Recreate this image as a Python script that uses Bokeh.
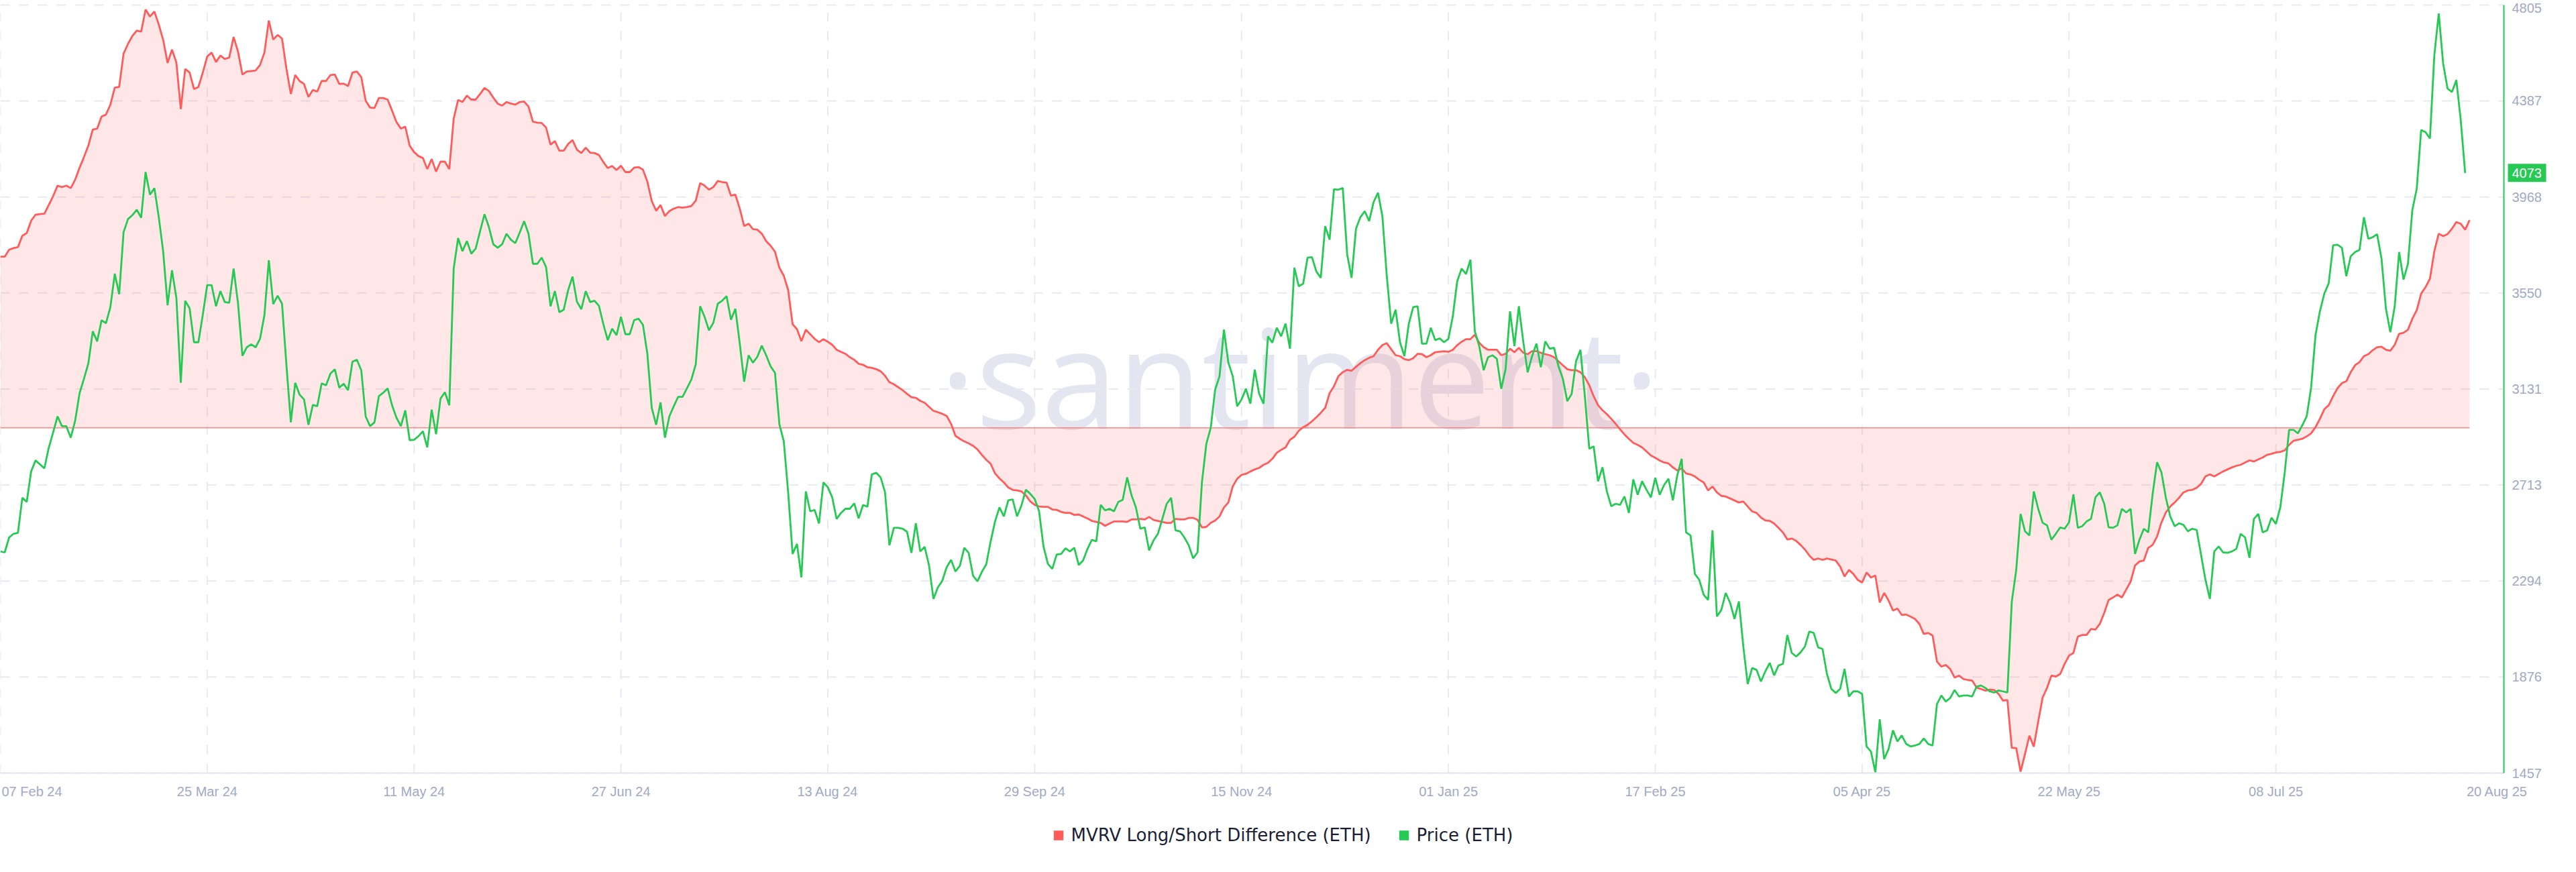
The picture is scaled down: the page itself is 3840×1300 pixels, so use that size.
import pandas as pd
from bokeh.plotting import figure
from bokeh.models import Range1d, Legend, LegendItem, Label, ColumnDataSource
from bokeh.core.properties import value
from bokeh.embed import file_html
from bokeh.resources import INLINE

# ---------------- data (daily, starting 07 Feb 2024) ----------------
START = "2024-02-07"

price_eth = [
    2423, 2419, 2484, 2500, 2504, 2657, 2639, 2772, 2820, 2803,
    2785, 2875, 2942, 3012, 2969, 2969, 2919, 2993, 3113, 3176,
    3243, 3383, 3339, 3431, 3418, 3488, 3634, 3544, 3815, 3872,
    3889, 3913, 3878, 4077, 3978, 4007, 3880, 3730, 3496, 3649,
    3527, 3158, 3516, 3483, 3335, 3335, 3455, 3584, 3584, 3492,
    3558, 3510, 3507, 3656, 3505, 3276, 3313, 3326, 3313, 3350,
    3453, 3693, 3501, 3538, 3503, 3235, 2986, 3158, 3106, 3086,
    2975, 3062, 3056, 3156, 3147, 3198, 3217, 3137, 3154, 3126,
    3250, 3259, 3213, 3012, 2969, 2986, 3100, 3115, 3134, 3060,
    3006, 2969, 3038, 2908, 2910, 2925, 2947, 2877, 3041, 2934,
    3089, 3117, 3060, 3656, 3789, 3732, 3776, 3721, 3743, 3819,
    3893, 3837, 3762, 3747, 3762, 3808, 3782, 3767, 3813, 3863,
    3808, 3677, 3677, 3704, 3662, 3492, 3558, 3466, 3477, 3562,
    3621, 3512, 3479, 3558, 3510, 3516, 3494, 3414, 3344, 3394,
    3366, 3446, 3370, 3370, 3431, 3438, 3411, 3285, 3049, 2975,
    3073, 2919, 3012, 3056, 3097, 3097, 3134, 3172, 3239, 3492,
    3446, 3387, 3420, 3503, 3516, 3536, 3433, 3481, 3329, 3163,
    3278, 3246, 3272, 3320, 3278, 3230, 3202, 2977, 2903, 2679,
    2412, 2456, 2310, 2685, 2598, 2604, 2545, 2724, 2703, 2659,
    2565, 2591, 2609, 2609, 2633, 2567, 2626, 2618, 2759, 2766,
    2746, 2681, 2450, 2526, 2526, 2522, 2509, 2417, 2546, 2423,
    2443, 2362, 2216, 2266, 2295, 2354, 2386, 2336, 2360, 2439,
    2417, 2317, 2293, 2334, 2367, 2467, 2554, 2615, 2576, 2646,
    2650, 2576, 2624, 2692, 2674, 2652, 2598, 2445, 2369, 2347,
    2410, 2412, 2437, 2423, 2439, 2364, 2384, 2434, 2474, 2467,
    2626, 2602, 2609, 2598, 2639, 2648, 2746, 2668, 2615, 2522,
    2528, 2428, 2471, 2500, 2565, 2631, 2657, 2515, 2511, 2484,
    2450, 2393, 2419, 2724, 2892, 2962, 3128, 3187, 3390, 3246,
    3187, 3056, 3086, 3132, 3067, 3215, 3110, 3067, 3361, 3333,
    3398, 3361, 3416, 3307, 3660, 3579, 3590, 3704, 3706, 3643,
    3616, 3841, 3782, 4002, 4000, 4007, 3717, 3616, 3830, 3880,
    3906, 3863, 3946, 3987, 3885, 3623, 3416, 3477, 3335, 3274,
    3416, 3488, 3492, 3329, 3329, 3398, 3344, 3352, 3335, 3350,
    3448, 3601, 3656, 3632, 3695, 3383, 3318, 3213, 3270, 3278,
    3263, 3132, 3219, 3470, 3318, 3492, 3339, 3204, 3274, 3329,
    3226, 3339, 3307, 3311, 3230, 3176, 3078, 3110, 3252, 3302,
    3099, 2871, 2881, 2729, 2790, 2685, 2620, 2631, 2626, 2663,
    2591, 2737, 2670, 2729, 2692, 2659, 2744, 2670, 2713, 2740,
    2646, 2755, 2827, 2506, 2493, 2325, 2299, 2234, 2212, 2515,
    2140, 2168, 2242, 2199, 2129, 2205, 2009, 1845, 1915, 1907,
    1856, 1900, 1937, 1883, 1926, 1933, 2059, 1981, 1965, 1983,
    2009, 2074, 2068, 2005, 1998, 1889, 1824, 1806, 1824, 1911,
    1791, 1813, 1813, 1802, 1573, 1551, 1460, 1691, 1518, 1562,
    1643, 1595, 1621, 1584, 1573, 1577, 1584, 1608, 1584, 1577,
    1758, 1795, 1769, 1784, 1819, 1791, 1795, 1795, 1791, 1834,
    1839, 1828, 1813, 1808, 1817, 1813, 1808, 2205, 2341, 2587,
    2511, 2493, 2685, 2609, 2548, 2537, 2474, 2500, 2528, 2522,
    2550, 2672, 2526, 2533, 2554, 2565, 2659, 2681, 2631, 2528,
    2526, 2537, 2609, 2593, 2609, 2412, 2474, 2522, 2506, 2674,
    2812, 2768, 2657, 2576, 2533, 2546, 2539, 2511, 2522, 2517,
    2408, 2299, 2216, 2423, 2445, 2419, 2417, 2423, 2434, 2500,
    2484, 2395, 2565, 2587, 2506, 2515, 2570, 2543, 2615, 2766,
    2953, 2953, 2938, 2973, 3012, 3137, 3366, 3470, 3547, 3592,
    3758, 3760, 3747, 3623, 3710, 3728, 3738, 3880, 3786, 3793,
    3806, 3699, 3481, 3379, 3492, 3728, 3608, 3677, 3911, 4004,
    4260, 4251, 4223, 4587, 4768, 4550, 4441, 4426, 4478, 4303,
    4073,
]

# MVRV Long/Short Difference (ETH), in percent
mvrv_long_short = [
    8.55, 8.55, 8.9, 8.98, 9.03, 9.6, 9.73, 10.35, 10.65, 10.68,
    10.7, 11.13, 11.58, 12.1, 12.03, 12.1, 11.98, 12.4, 13.0, 13.53,
    14.1, 14.9, 14.95, 15.55, 15.65, 16.15, 17.0, 17.03, 18.7, 19.18,
    19.58, 19.85, 19.8, 20.9, 20.55, 20.8, 20.15, 19.38, 18.23, 18.9,
    18.25, 15.93, 17.93, 17.75, 16.93, 17.03, 17.75, 18.55, 18.75, 18.28,
    18.6, 18.43, 18.5, 19.53, 18.8, 17.65, 17.8, 17.83, 17.85, 18.13,
    18.75, 20.35, 19.4, 19.63, 19.45, 17.95, 16.68, 17.63, 17.33, 17.18,
    16.53, 16.88, 16.8, 17.33, 17.33, 17.63, 17.65, 17.18, 17.2, 17.08,
    17.75, 17.8, 17.53, 16.35, 16.0, 15.98, 16.48, 16.48, 16.4, 15.85,
    15.28, 14.95, 15.05, 14.1, 13.78, 13.58, 13.48, 12.93, 13.43, 12.8,
    13.3, 13.3, 12.93, 15.45, 16.38, 16.28, 16.6, 16.4, 16.4, 16.68,
    16.98, 16.83, 16.5, 16.2, 16.1, 16.28, 16.2, 16.15, 16.28, 16.3,
    16.05, 15.3, 15.25, 15.23, 15.0, 14.15, 14.33, 13.85, 13.85, 14.18,
    14.38, 13.9, 13.73, 14.0, 13.75, 13.73, 13.63, 13.28, 12.98, 13.08,
    12.88, 13.1, 12.78, 12.78, 13.0, 13.03, 12.9, 12.3, 11.33, 10.85,
    11.13, 10.58, 10.83, 10.95, 11.03, 11.0, 11.03, 11.08, 11.35, 12.23,
    12.1, 11.9, 12.03, 12.33, 12.28, 12.25, 11.6, 11.65, 10.95, 10.08,
    10.2, 9.93, 9.9, 9.7, 9.33, 9.1, 8.8, 8.0, 7.6, 6.88,
    5.18, 4.93, 4.33, 4.9, 4.68, 4.45, 4.28, 4.43, 4.3, 4.15,
    3.9, 3.8, 3.7, 3.53, 3.4, 3.2, 3.15, 3.03, 3.0, 2.93,
    2.83, 2.6, 2.28, 2.18, 2.03, 1.88, 1.7, 1.53, 1.5, 1.35,
    1.25, 1.05, 0.85, 0.78, 0.7, 0.6, 0.2, -0.4, -0.55, -0.68,
    -0.78, -0.9, -1.08, -1.35, -1.6, -1.8, -2.28, -2.53, -2.73, -2.98,
    -3.1, -3.13, -3.18, -3.38, -3.68, -3.85, -3.93, -3.95, -3.95, -4.08,
    -4.1, -4.2, -4.25, -4.25, -4.35, -4.33, -4.43, -4.53, -4.65, -4.7,
    -4.75, -4.9, -4.78, -4.68, -4.68, -4.68, -4.7, -4.58, -4.58, -4.55,
    -4.58, -4.45, -4.6, -4.65, -4.7, -4.75, -4.75, -4.55, -4.58, -4.58,
    -4.5, -4.5, -4.6, -4.98, -4.95, -4.75, -4.63, -4.43, -3.98, -3.73,
    -2.93, -2.55, -2.35, -2.3, -2.18, -2.08, -2.0, -1.85, -1.75, -1.55,
    -1.25, -1.1, -0.98, -0.6, -0.45, -0.15, 0.03, 0.15, 0.33, 0.53,
    0.75, 1.0, 1.73, 2.08, 2.58, 2.78, 2.9, 2.85, 3.05, 3.23,
    3.38, 3.5, 3.58, 3.9, 4.13, 4.23, 3.93, 3.63, 3.58, 3.43,
    3.38, 3.48, 3.7, 3.68, 3.53, 3.63, 3.78, 3.8, 3.83, 3.8,
    3.9, 4.13, 4.3, 4.43, 4.43, 4.65, 4.25, 4.03, 3.9, 3.9,
    3.9, 3.63, 3.7, 3.95, 3.78, 4.0, 3.75, 3.68, 3.83, 3.83,
    3.75, 3.68, 3.63, 3.53, 3.33, 3.13, 2.93, 2.88, 2.88, 2.78,
    2.53, 2.13, 1.58, 1.13, 0.88, 0.68, 0.45, 0.2, -0.08, -0.33,
    -0.55, -0.75, -0.85, -0.98, -1.18, -1.38, -1.5, -1.63, -1.73, -1.78,
    -1.98, -2.13, -2.03, -2.28, -2.33, -2.43, -2.6, -2.73, -3.13, -2.93,
    -3.23, -3.4, -3.43, -3.53, -3.63, -3.73, -3.68, -3.93, -4.18, -4.25,
    -4.48, -4.63, -4.65, -4.78, -5.0, -5.23, -5.58, -5.53, -5.65, -5.85,
    -6.08, -6.38, -6.6, -6.53, -6.6, -6.53, -6.58, -6.63, -6.93, -7.43,
    -7.1, -7.3, -7.6, -7.73, -7.23, -7.48, -7.38, -8.73, -8.25, -8.63,
    -9.13, -9.03, -9.35, -9.33, -9.43, -9.55, -9.8, -10.3, -10.25, -10.38,
    -11.68, -11.93, -11.85, -12.05, -12.48, -12.38, -12.55, -12.6, -12.63, -12.98,
    -13.05, -13.13, -13.08, -13.1, -13.3, -13.63, -13.6, -16.0, -16.0, -17.18,
    -16.3, -15.38, -15.93, -14.68, -13.48, -13.0, -12.38, -12.43, -12.3, -11.8,
    -11.38, -11.25, -10.43, -10.35, -10.35, -10.05, -10.08, -9.8, -9.25, -8.6,
    -8.48, -8.33, -8.48, -8.08, -7.68, -6.88, -6.68, -6.63, -6.0, -5.85,
    -5.43, -4.73, -4.23, -3.93, -3.73, -3.5, -3.23, -3.13, -3.1, -3.0,
    -2.8, -2.43, -2.33, -2.43, -2.3, -2.18, -2.08, -1.98, -1.9, -1.85,
    -1.73, -1.63, -1.68, -1.58, -1.48, -1.35, -1.3, -1.23, -1.2, -1.13,
    -0.85, -0.65, -0.6, -0.55, -0.43, -0.28, 0.03, 0.45, 0.93, 1.13,
    1.58, 1.98, 2.23, 2.33, 2.78, 3.13, 3.28, 3.58, 3.68, 3.88,
    4.03, 4.05, 3.9, 3.85, 4.15, 4.7, 4.75, 4.9, 5.45, 5.88,
    6.7, 7.03, 7.45, 8.83, 9.7, 9.58, 9.68, 9.95, 10.28, 10.2,
    9.9, 10.38,
]

x_tick_dates = ["2024-02-07", "2024-03-25", "2024-05-11", "2024-06-27", "2024-08-13",
                "2024-09-29", "2024-11-15", "2025-01-01", "2025-02-17", "2025-04-05",
                "2025-05-22", "2025-07-08"]
price_ticks = [1457, 1876, 2294, 2713, 3131, 3550, 3968, 4387, 4805]
MVRV_MIN, MVRV_MAX = -17.25, 21.125
X_PLOT_DAYS = 568.8

# ---------------- layout constants (pixels) ----------------
CANVAS_W, CANVAS_H = 3824, 1284
PLOT_RIGHT = 3732            # canvas x of the price axis line
PLOT_TOP, PLOT_BOTTOM = 7, 1152

RED = "#ff5b5b"
GREEN = "#26c953"
LABEL_C = "#9faac4"
GRID_C = "#e8eaf2"
AXIS_FONT = "Liberation Sans"
DAY_MS = 86400000.0
LINE_W = 2.8

price_dates = pd.date_range(START, periods=len(price_eth), freq="D")
mvrv_dates = pd.date_range(START, periods=len(mvrv_long_short), freq="D")


def ms(t):
    return pd.Timestamp(t).value / 1e6


x_start = ms(START)
x_axis_end = x_start + X_PLOT_DAYS * DAY_MS          # where the price axis sits
ms_per_px = (x_axis_end - x_start) / PLOT_RIGHT
x_canvas_end = x_start + CANVAS_W * ms_per_px

p_lo, p_hi = price_ticks[0], price_ticks[-1]
pp = (p_hi - p_lo) / (PLOT_BOTTOM - PLOT_TOP)
mp = (MVRV_MAX - MVRV_MIN) / (PLOT_BOTTOM - PLOT_TOP)

p = figure(width=CANVAS_W, height=CANVAS_H,
           x_range=Range1d(x_start, x_canvas_end),
           y_range=Range1d(p_lo - (CANVAS_H - PLOT_BOTTOM) * pp, p_hi + PLOT_TOP * pp),
           x_axis_location=None, y_axis_location=None,
           output_backend="svg", toolbar_location=None, min_border=0)
p.extra_y_ranges = {"mvrv": Range1d(MVRV_MIN - (CANVAS_H - PLOT_BOTTOM) * mp,
                                    MVRV_MAX + PLOT_TOP * mp)}
p.outline_line_color = None
p.grid.visible = False
p.background_fill_color = "white"
p.border_fill_color = "white"

# watermark (under everything)
p.add_layout(Label(x=x_start + (x_axis_end - x_start) * 0.519,
                   y=p_lo + (p_hi - p_lo) * 0.518,
                   text="\u00b7santiment\u00b7", text_font="Open Sans", text_font_size="205px",
                   text_color="#e3e6f0", text_align="center", text_baseline="alphabetic",
                   level="underlay"))

# dashed grid
tick_ms = [ms(d) for d in x_tick_dates]
p.segment(x0=tick_ms, y0=[p_lo] * len(tick_ms), x1=tick_ms, y1=[p_hi] * len(tick_ms),
          line_color=GRID_C, line_width=2, line_dash="14 14")
p.segment(x0=[x_start] * len(price_ticks), y0=price_ticks,
          x1=[x_axis_end] * len(price_ticks), y1=price_ticks,
          line_color=GRID_C, line_width=2, line_dash="14 14")

# series
msrc = ColumnDataSource(dict(date=mvrv_dates, mvrv=mvrv_long_short))
psrc = ColumnDataSource(dict(date=price_dates, price=price_eth))
p.varea(x="date", y1=0, y2="mvrv", source=msrc, y_range_name="mvrv",
        fill_color=RED, fill_alpha=0.15)
p.line(x=[mvrv_dates[0], mvrv_dates[-1]], y=[0, 0], y_range_name="mvrv",
       line_color=RED, line_width=1.2, line_alpha=0.85)
p.line("date", "mvrv", source=msrc, y_range_name="mvrv", line_color=RED, line_width=LINE_W)
p.line("date", "price", source=psrc, line_color=GREEN, line_width=LINE_W)

# axis lines
p.segment(x0=[x_start], y0=[p_lo], x1=[x_axis_end], y1=[p_lo], line_color="#e3e6ef", line_width=2)
p.segment(x0=[x_axis_end], y0=[p_lo], x1=[x_axis_end], y1=[p_hi], line_color=GREEN, line_width=2)

# price tick labels (right); the topmost one is nudged down so it stays inside the canvas
p.text(x=[x_axis_end] * (len(price_ticks) - 1), y=price_ticks[:-1],
       text=[str(t) for t in price_ticks[:-1]],
       x_offset=12, text_align="left", text_baseline="middle",
       text_font=value(AXIS_FONT), text_font_size="20px", text_color=LABEL_C)
p.text(x=[x_axis_end], y=[price_ticks[-1]], text=[str(price_ticks[-1])],
       x_offset=12, y_offset=4, text_align="left", text_baseline="middle",
       text_font=value(AXIS_FONT), text_font_size="20px", text_color=LABEL_C)

# date tick labels (bottom)
inner = x_tick_dates[1:]
p.text(x=[ms(d) for d in inner], y=[p_lo] * len(inner),
       text=[pd.Timestamp(d).strftime("%d %b %y") for d in inner],
       y_offset=27, text_align="center", text_baseline="alphabetic",
       text_font=value(AXIS_FONT), text_font_size="20px", text_color=LABEL_C)
p.text(x=[x_start], y=[p_lo], text=[pd.Timestamp(x_tick_dates[0]).strftime("%d %b %y")],
       x_offset=2, y_offset=27, text_align="left", text_baseline="alphabetic",
       text_font=value(AXIS_FONT), text_font_size="20px", text_color=LABEL_C)
p.text(x=[x_axis_end], y=[p_lo], text=[price_dates[-1].strftime("%d %b %y")],
       x_offset=-10, y_offset=27, text_align="center", text_baseline="alphabetic",
       text_font=value(AXIS_FONT), text_font_size="20px", text_color=LABEL_C)

# last price tag
p.rect(x=[x_axis_end + 34.5 * ms_per_px], y=[price_eth[-1]], width=57, height=27,
       width_units="screen", height_units="screen", fill_color=GREEN, line_color=None)
p.text(x=[x_axis_end], y=[price_eth[-1]], text=[str(price_eth[-1])], x_offset=12,
       text_align="left", text_baseline="middle", text_font=value(AXIS_FONT),
       text_font_size="20px", text_color="white")

# legend with square swatches (zero-size quads, only used for the legend)
sw_red = p.quad(left="date", right="date", top="price", bottom="price", source=psrc,
                fill_color=RED, line_color=None)
sw_green = p.quad(left="date", right="date", top="price", bottom="price", source=psrc,
                  fill_color=GREEN, line_color=None)
legend = Legend(items=[LegendItem(label="MVRV Long/Short Difference (ETH)", renderers=[sw_red]),
                       LegendItem(label="Price (ETH)", renderers=[sw_green])],
                orientation="horizontal", location="bottom_center",
                glyph_width=18, glyph_height=18, label_standoff=10, spacing=40,
                padding=0, margin=24, border_line_color=None, background_fill_alpha=0,
                label_text_font="DejaVu Sans", label_text_font_size="26px",
                label_text_color="#1a1f36")
p.add_layout(legend)

open("out.html", "w").write(file_html(p, INLINE))
